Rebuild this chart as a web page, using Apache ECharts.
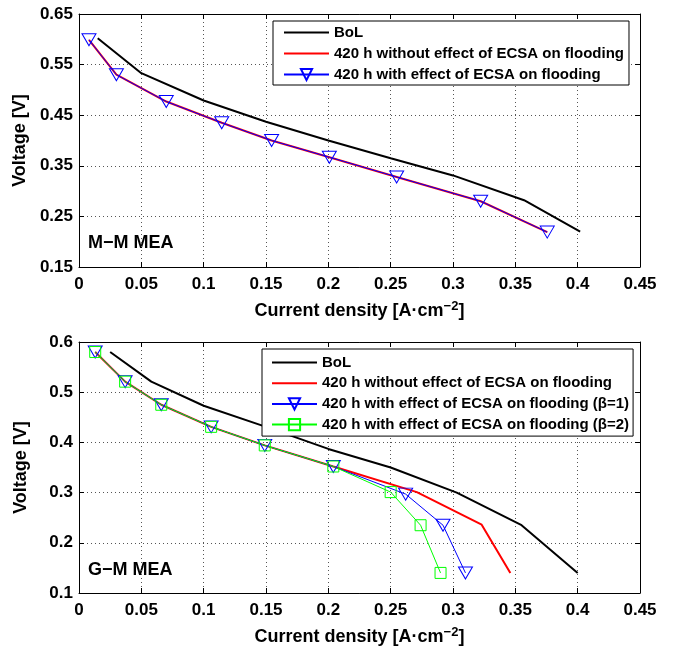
<!DOCTYPE html>
<html>
<head>
<meta charset="utf-8">
<script src="https://cdn.jsdelivr.net/npm/echarts@6/dist/echarts.min.js"></script>
<style>
  html, body { margin: 0; padding: 0; background: #fff; }
  #chart { width: 673px; height: 647px; }
</style>
</head>
<body>
<div id="chart"></div>
<script>
// Polarisation curves, current density [A/cm2] vs voltage [V]

// --- M-M MEA ---
const mmBolX = [0.015, 0.05, 0.1, 0.15, 0.2, 0.25, 0.3, 0.357, 0.402];
const mmBolY = [0.602, 0.533, 0.479, 0.437, 0.4, 0.365, 0.331, 0.282, 0.22];
const mmAgedX = [0.008, 0.03, 0.07, 0.1145, 0.1545, 0.2008, 0.2548, 0.3222, 0.3756];
const mmNoEcsaY = [0.599, 0.53, 0.477, 0.435, 0.4, 0.367, 0.328, 0.28, 0.219];
const mmEcsaY = [0.599, 0.53, 0.477, 0.435, 0.4, 0.367, 0.328, 0.28, 0.219];

// --- G-M MEA ---
const gmBolX = [0.025, 0.058, 0.1, 0.15, 0.2, 0.25, 0.303, 0.355, 0.4];
const gmBolY = [0.58, 0.521, 0.473, 0.431, 0.387, 0.35, 0.3, 0.235, 0.14];
const gmNoEcsaX = [0.013, 0.037, 0.066, 0.106, 0.149, 0.204, 0.271, 0.323, 0.346];
const gmNoEcsaY = [0.58, 0.521, 0.475, 0.431, 0.394, 0.352, 0.301, 0.236, 0.14];
const gmBeta1X = [0.013, 0.037, 0.066, 0.106, 0.149, 0.204, 0.262, 0.292, 0.31];
const gmBeta1Y = [0.58, 0.521, 0.475, 0.431, 0.394, 0.352, 0.297, 0.235, 0.14];
const gmBeta2X = [0.013, 0.037, 0.066, 0.106, 0.149, 0.204, 0.25, 0.274, 0.29];
const gmBeta2Y = [0.58, 0.521, 0.475, 0.431, 0.394, 0.352, 0.301, 0.235, 0.14];

// --- tick labels ---
const xTickLabels = ['0', '0.05', '0.1', '0.15', '0.2', '0.25', '0.3', '0.35', '0.4', '0.45'];
const mmYTickLabels = ['0.15', '0.25', '0.35', '0.45', '0.55', '0.65'];
const gmYTickLabels = ['0.1', '0.2', '0.3', '0.4', '0.5', '0.6'];

// --- legend names ---
const nameBol = 'BoL';
const nameNoEcsa = '420 h without effect of ECSA on flooding';
const nameEcsa = '420 h with effect of ECSA on flooding';
const nameBeta1 = '420 h with effect of ECSA on flooding (\u03b2=1)';
const nameBeta2 = '420 h with effect of ECSA on flooding (\u03b2=2)';

const FONT = "'Liberation Sans', Arial, Helvetica, sans-serif";
const CLEAR = 'rgba(0,0,0,0)';
const zip = (xs, ys) => xs.map((x, i) => [x, ys[i]]);

const gridBox = [
  { left: 79, top: 14, width: 561, height: 253 },
  { left: 79, top: 342, width: 561, height: 253 }
];

function mainX(gridIndex) {
  return {
    type: 'value', gridIndex, position: 'bottom',
    min: 0, max: 0.45, interval: 0.05,
    axisLine: { show: true, onZero: false, lineStyle: { color: '#000', width: 1 } },
    axisTick: { show: true, inside: true, length: 5, lineStyle: { color: '#000' } },
    axisLabel: {
      color: '#000', fontFamily: FONT, fontWeight: 'bold', fontSize: 17, margin: 9,
      formatter: v => xTickLabels[Math.round(v / 0.05)]
    },
    splitLine: { show: true, lineStyle: { color: '#555', type: [1, 3], width: 1 } },
    name: 'Current density [A\u00b7cm{sup|\u22122}]',
    nameLocation: 'middle', nameGap: 33,
    nameTextStyle: {
      color: '#000', fontFamily: FONT, fontWeight: 'bold', fontSize: 18,
      rich: { sup: { fontFamily: FONT, fontWeight: 'bold', fontSize: 13, verticalAlign: 'top', padding: [0, 0, 9, 0] } }
    }
  };
}
function boxX(gridIndex) {
  return {
    type: 'value', gridIndex, position: 'top',
    min: 0, max: 0.45, interval: 0.05,
    axisLine: { show: true, onZero: false, lineStyle: { color: '#000', width: 1 } },
    axisTick: { show: true, inside: true, length: 5, lineStyle: { color: '#000' } },
    axisLabel: { show: false }, splitLine: { show: false }
  };
}
function mainY(gridIndex, min, max, labels) {
  return {
    type: 'value', gridIndex, position: 'left',
    min, max, interval: 0.1,
    axisLine: { show: true, onZero: false, lineStyle: { color: '#000', width: 1 } },
    axisTick: { show: true, inside: true, length: 5, lineStyle: { color: '#000' } },
    axisLabel: {
      color: '#000', fontFamily: FONT, fontWeight: 'bold', fontSize: 17, margin: 6,
      formatter: v => labels[Math.round((v - min) / 0.1)]
    },
    splitLine: { show: true, lineStyle: { color: '#555', type: [1, 3], width: 1 } },
    name: 'Voltage [V]', nameLocation: 'middle', nameGap: 49,
    nameTextStyle: { color: '#000', fontFamily: FONT, fontWeight: 'bold', fontSize: 18 }
  };
}
function boxY(gridIndex, min, max) {
  return {
    type: 'value', gridIndex, position: 'right',
    min, max, interval: 0.1,
    axisLine: { show: true, onZero: false, lineStyle: { color: '#000', width: 1 } },
    axisTick: { show: true, inside: true, length: 5, lineStyle: { color: '#000' } },
    axisLabel: { show: false }, splitLine: { show: false }
  };
}

// line without markers (legend symbol kept invisible)
function plainLine(name, data, axisIdx, color, width) {
  return {
    name, type: 'line', data, xAxisIndex: axisIdx, yAxisIndex: axisIdx,
    showSymbol: false, symbol: 'circle', symbolSize: 1, animation: false,
    lineStyle: { color, width },
    itemStyle: { color: CLEAR, borderColor: CLEAR, borderWidth: 0 }
  };
}
// line with hollow markers
function markedLine(name, data, axisIdx, color, symbol, size, rotate) {
  return {
    name, type: 'line', data, xAxisIndex: axisIdx, yAxisIndex: axisIdx,
    showSymbol: true, symbol, symbolSize: size, symbolRotate: rotate, animation: false,
    lineStyle: { color, width: 1 },
    itemStyle: { color: CLEAR, borderColor: color, borderWidth: 1 }
  };
}

const legendText = { color: '#000', fontFamily: FONT, fontWeight: 'bold', fontSize: 15, lineHeight: 14 };

const option = {
  backgroundColor: '#fff',
  animation: false,
  grid: gridBox,
  xAxis: [mainX(0), mainX(1), boxX(0), boxX(1)],
  yAxis: [mainY(0, 0.15, 0.65, mmYTickLabels), mainY(1, 0.1, 0.6, gmYTickLabels), boxY(0, 0.15, 0.65), boxY(1, 0.1, 0.6)],
  legend: [
    {
      orient: 'vertical', left: 273, top: 21,
      padding: [4, 5, 3, 10], itemGap: 6, itemWidth: 45, itemHeight: 14,
      backgroundColor: '#fff', borderColor: '#000', borderWidth: 1, borderRadius: 0,
      textStyle: legendText, selectedMode: false,
      data: [nameBol, nameNoEcsa, nameEcsa]
    },
    {
      orient: 'vertical', left: 262, top: 349,
      padding: [6, 4, 4, 9], itemGap: 5.7, itemWidth: 45, itemHeight: 14,
      backgroundColor: '#fff', borderColor: '#000', borderWidth: 1, borderRadius: 0,
      textStyle: legendText, selectedMode: false,
      data: [nameBol, nameNoEcsa, nameBeta1, nameBeta2]
    }
  ],
  graphic: [
    { type: 'text', left: 88, top: 234, style: { text: 'M\u2212M MEA', fill: '#000', font: "bold 18px " + FONT } },
    { type: 'text', left: 88, top: 561, style: { text: 'G\u2212M MEA', fill: '#000', font: "bold 18px " + FONT } }
  ],
  series: [
    plainLine(nameBol, zip(mmBolX, mmBolY), 0, '#000', 2),
    plainLine(nameNoEcsa, zip(mmAgedX, mmNoEcsaY), 0, '#ff0000', 2),
    markedLine(nameEcsa, zip(mmAgedX, mmEcsaY), 0, '#0000ff', 'triangle', [14, 12], 180),

    plainLine(nameBol, zip(gmBolX, gmBolY), 1, '#000', 2),
    plainLine(nameNoEcsa, zip(gmNoEcsaX, gmNoEcsaY), 1, '#ff0000', 2),
    markedLine(nameBeta1, zip(gmBeta1X, gmBeta1Y), 1, '#0000ff', 'triangle', [14, 12], 180),
    markedLine(nameBeta2, zip(gmBeta2X, gmBeta2Y), 1, '#00ff00', 'rect', 11, 0)
  ]
};

const chart = echarts.init(document.getElementById('chart'), null, { renderer: 'canvas' });
chart.setOption(option);
</script>
</body>
</html>
